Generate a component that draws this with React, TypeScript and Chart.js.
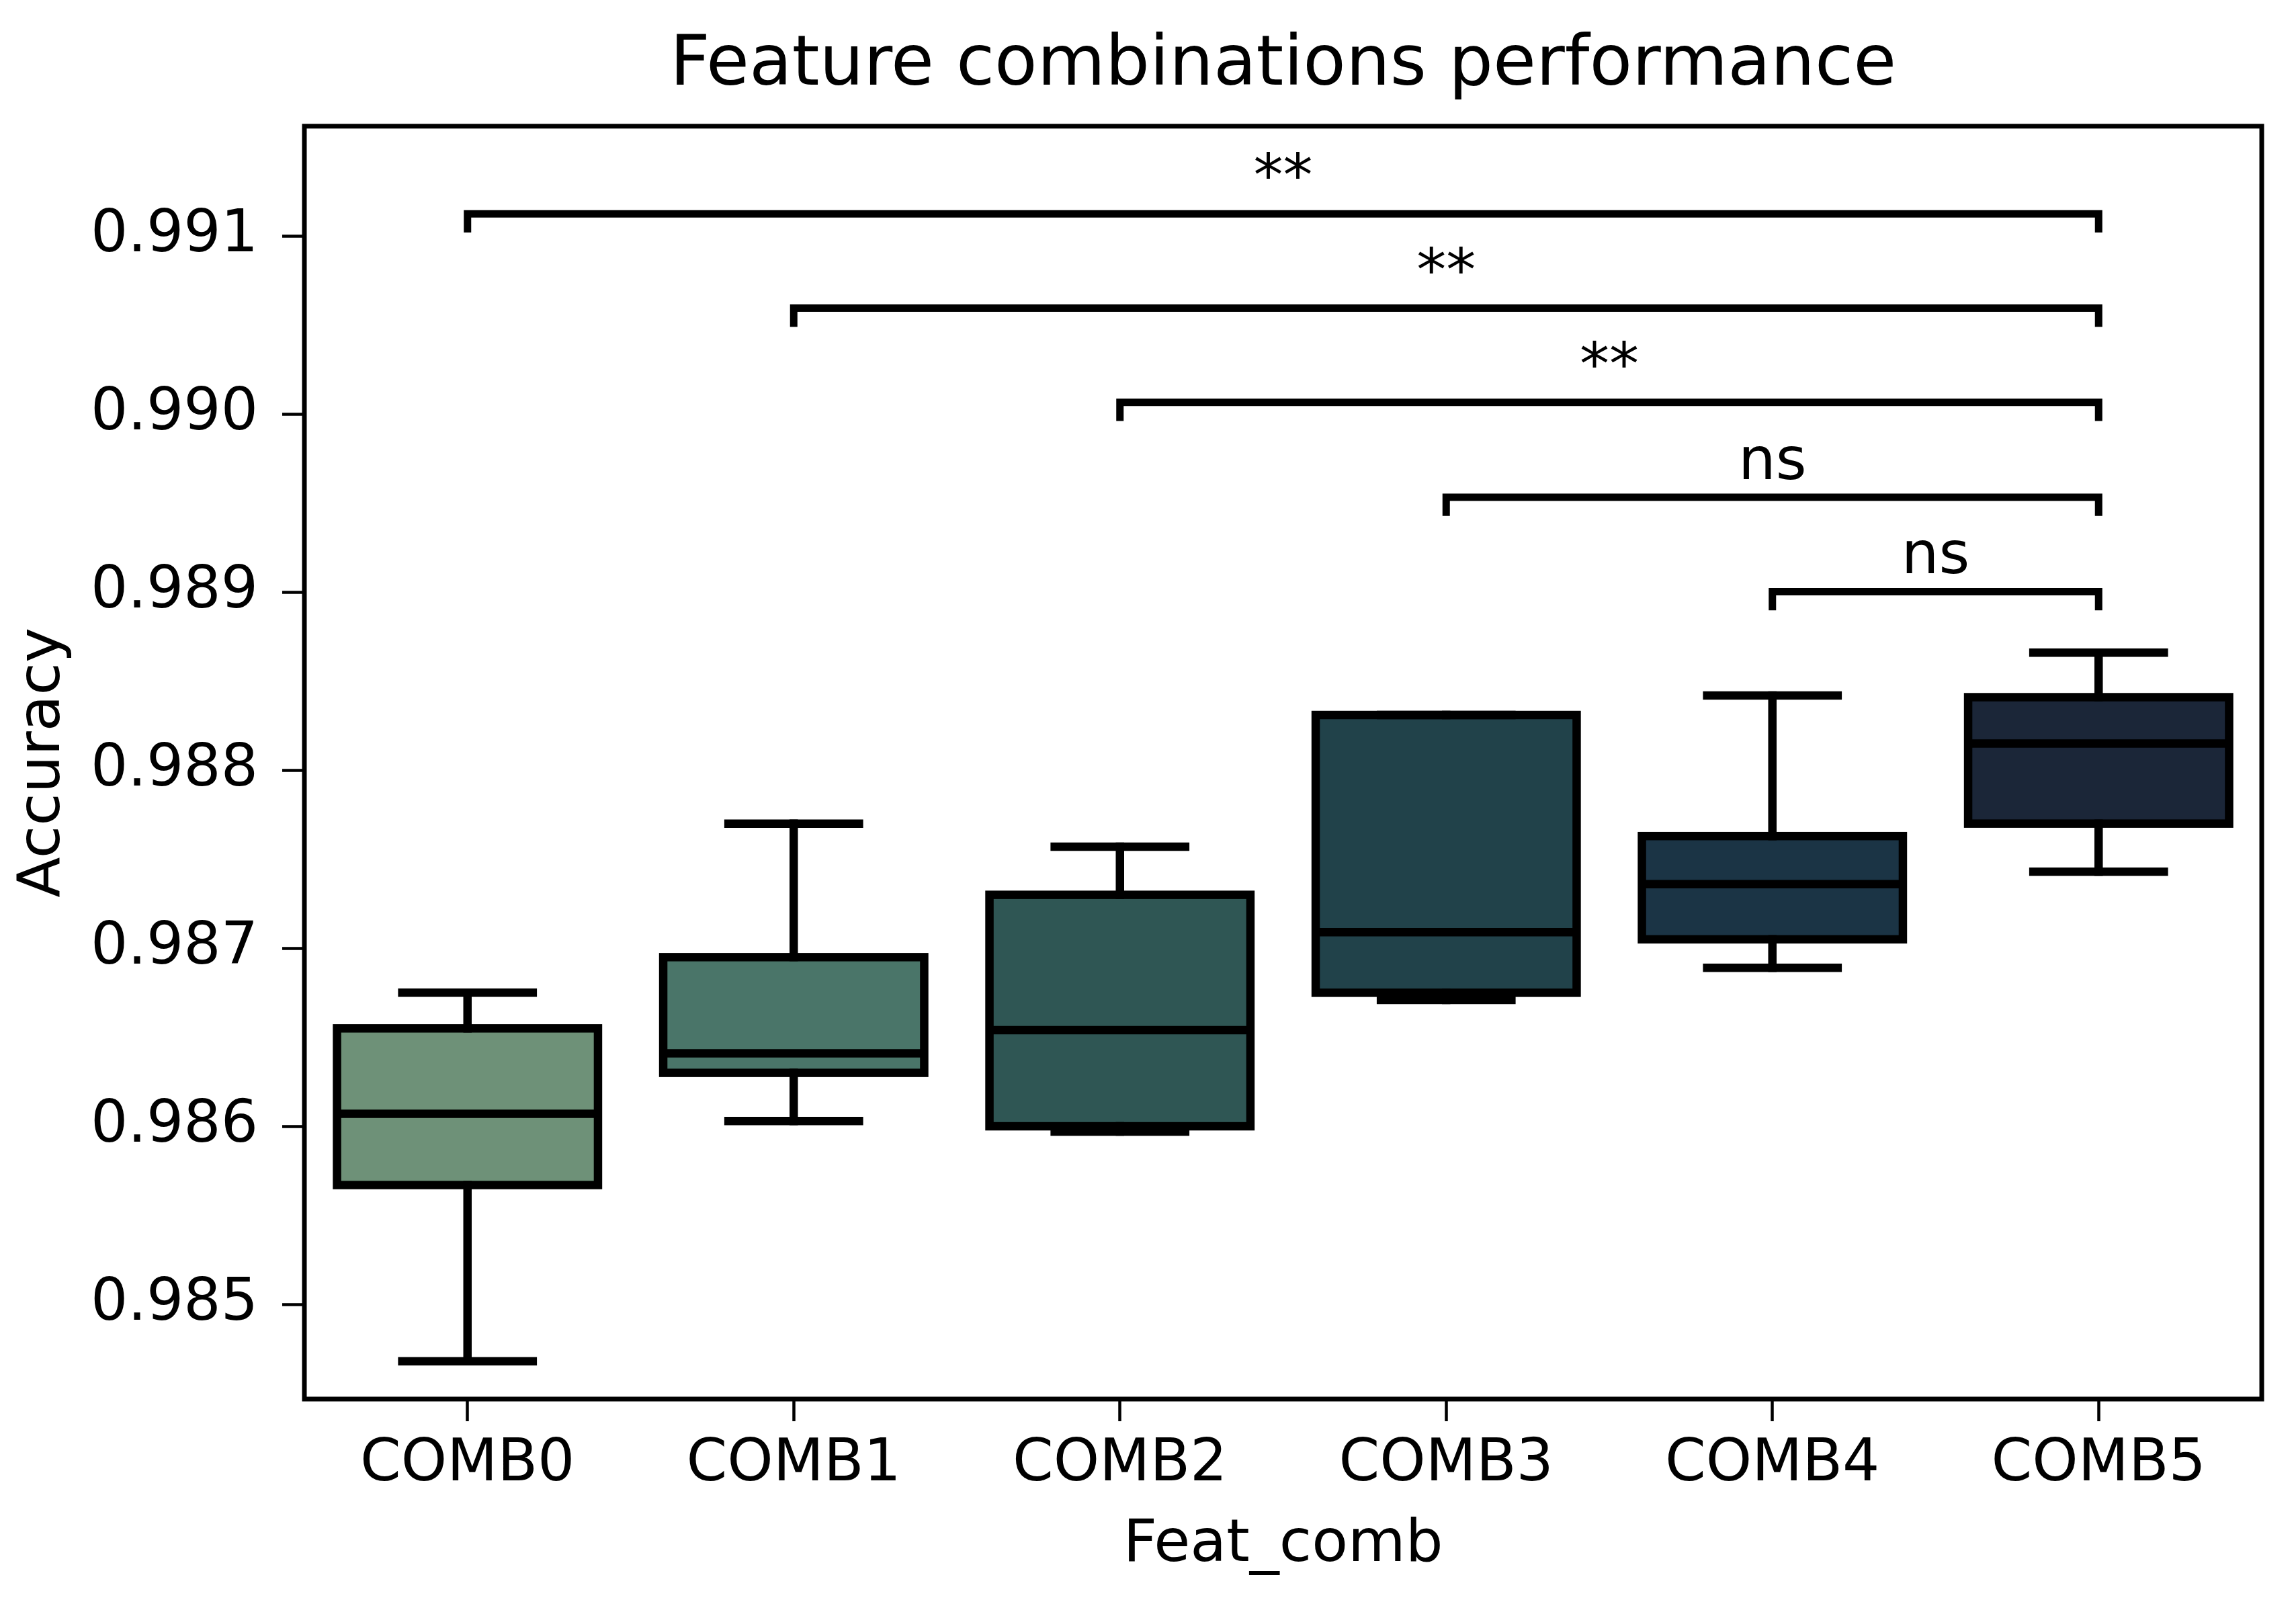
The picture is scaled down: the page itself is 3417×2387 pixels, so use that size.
import React, { useEffect, useRef } from 'react';
import { Chart, registerables } from 'chart.js';

Chart.register(...registerables);

const categories = ['COMB0', 'COMB1', 'COMB2', 'COMB3', 'COMB4', 'COMB5'];
const whiskerLow = [0.98468, 0.98603, 0.98597, 0.98671, 0.98689, 0.98743];
const q1 = [0.98567, 0.9863, 0.986, 0.98675, 0.98705, 0.9877];
const median = [0.98607, 0.98641, 0.98654, 0.98709, 0.98736, 0.98815];
const q3 = [0.98655, 0.98695, 0.9873, 0.98831, 0.98763, 0.98841];
const whiskerHigh = [0.98675, 0.9877, 0.98757, 0.98831, 0.98842, 0.98866];
const boxColors = ['#6E9178', '#4A7569', '#2F5654', '#21424A', '#1B3445', '#1B2638'];

const yTicks = [0.985, 0.986, 0.987, 0.988, 0.989, 0.99, 0.991];
const yMin = 0.984468;
const yMax = 0.991617;

const bracketFrom = [0, 1, 2, 3, 4];
const bracketTo = [5, 5, 5, 5, 5];
const bracketLevel = [0.991125, 0.990595, 0.990066, 0.989533, 0.989003];
const bracketLabel = ['**', '**', '**', 'ns', 'ns'];
const bracketDrop = 0.000105;

const FONT = 'DejaVu Sans';

const boxPlugin = {
  id: 'boxDecor',
  afterDatasetsDraw(chart: any) {
    const ctx = chart.ctx;
    const xs = chart.scales.x;
    const ys = chart.scales.y;
    const meta = chart.getDatasetMeta(0);
    ctx.save();
    ctx.strokeStyle = '#000';
    ctx.lineWidth = 12.5;
    meta.data.forEach((bar: any, i: number) => {
      const { x: cx, width } = bar.getProps(['x', 'width'], true);
      const half = width / 2;
      const yq1 = ys.getPixelForValue(q1[i]);
      const yq3 = ys.getPixelForValue(q3[i]);
      const ymed = ys.getPixelForValue(median[i]);
      const ylo = ys.getPixelForValue(whiskerLow[i]);
      const yhi = ys.getPixelForValue(whiskerHigh[i]);
      ctx.lineCap = 'square';
      ctx.beginPath();
      ctx.moveTo(cx, yq1);
      ctx.lineTo(cx, ylo);
      ctx.moveTo(cx, yq3);
      ctx.lineTo(cx, yhi);
      ctx.stroke();
      ctx.beginPath();
      ctx.moveTo(cx - half / 2, ylo);
      ctx.lineTo(cx + half / 2, ylo);
      ctx.moveTo(cx - half / 2, yhi);
      ctx.lineTo(cx + half / 2, yhi);
      ctx.stroke();
      ctx.lineJoin = 'miter';
      ctx.strokeRect(cx - half, yq3, width, yq1 - yq3);
      ctx.lineCap = 'butt';
      ctx.beginPath();
      ctx.moveTo(cx - half, ymed);
      ctx.lineTo(cx + half, ymed);
      ctx.stroke();
    });

    // significance brackets
    ctx.lineWidth = 11;
    ctx.lineCap = 'butt';
    ctx.lineJoin = 'miter';
    ctx.fillStyle = '#000';
    ctx.font = `88px "${FONT}"`;
    ctx.textAlign = 'center';
    ctx.textBaseline = 'alphabetic';
    bracketFrom.forEach((from, k) => {
      const x1 = xs.getPixelForValue(from);
      const x2 = xs.getPixelForValue(bracketTo[k]);
      const yl = ys.getPixelForValue(bracketLevel[k]);
      const yd = ys.getPixelForValue(bracketLevel[k] - bracketDrop);
      ctx.beginPath();
      ctx.moveTo(x1, yd);
      ctx.lineTo(x1, yl);
      ctx.lineTo(x2, yl);
      ctx.lineTo(x2, yd);
      ctx.stroke();
      ctx.fillText(bracketLabel[k], (x1 + x2) / 2, yl - 27);
    });

    // frame
    const a = chart.chartArea;
    ctx.lineWidth = 7;
    ctx.strokeRect(a.left, a.top, a.right - a.left, a.bottom - a.top);
    ctx.restore();
  },
};

export default function App() {
  const ref = useRef<HTMLCanvasElement | null>(null);
  useEffect(() => {
    if (!ref.current) return;
    Chart.defaults.font.family = FONT;
    const chart = new Chart(ref.current, {
      type: 'bar',
      data: {
        labels: categories,
        datasets: [
          {
            data: categories.map((_, i) => [q1[i], q3[i]]) as any,
            backgroundColor: boxColors,
            borderWidth: 0,
            barPercentage: 0.8,
            categoryPercentage: 1.0,
          },
        ],
      },
      options: {
        animation: false,
        responsive: false,
        devicePixelRatio: 1,
        layout: { padding: { left: 0, top: 0, bottom: 0, right: 51 } },
        plugins: {
          legend: { display: false },
          tooltip: { enabled: false },
          title: {
            display: true,
            text: 'Feature combinations performance',
            font: { family: FONT, size: 104, weight: 'normal' },
            color: '#000',
            padding: { top: 37, bottom: 26 },
            fullSize: false,
          },
        },
        scales: {
          x: {
            type: 'category',
            offset: true,
            grid: {
              offset: false,
              drawOnChartArea: false,
              drawTicks: true,
              tickLength: 33,
              tickWidth: 4.5,
              tickColor: '#000',
            },
            border: { display: false },
            ticks: {
              font: { family: FONT, size: 87 },
              color: '#000',
              padding: 13,
              maxRotation: 0,
              autoSkip: false,
            },
            title: {
              display: true,
              text: 'Feat_comb',
              font: { family: FONT, size: 88 },
              color: '#000',
              padding: { top: 0, bottom: 34 },
            },
            afterFit: (s: any) => {
              s.height = 305;
            },
          },
          y: {
            type: 'linear',
            min: yMin,
            max: yMax,
            afterBuildTicks: (s: any) => {
              s.ticks = yTicks.map((v) => ({ value: v }));
            },
            grid: {
              drawOnChartArea: false,
              drawTicks: true,
              tickLength: 33,
              tickWidth: 4.5,
              tickColor: '#000',
            },
            border: { display: false },
            ticks: {
              font: { family: FONT, size: 87 },
              color: '#000',
              padding: 36,
              callback: (v: any) => Number(v).toFixed(3),
            },
            title: {
              display: true,
              text: 'Accuracy',
              font: { family: FONT, size: 88 },
              color: '#000',
              padding: { top: 12, bottom: 0 },
            },
            afterFit: (s: any) => {
              s.width = 453;
            },
          },
        },
      },
      plugins: [boxPlugin],
    });
    return () => chart.destroy();
  }, []);
  return (
    <div style={{ position: 'fixed', left: 0, top: 0, width: 3417, height: 2387, background: '#fff' }}>
      <canvas ref={ref} width={3417} height={2387} style={{ display: 'block', width: 3417, height: 2387 }} />
    </div>
  );
}
